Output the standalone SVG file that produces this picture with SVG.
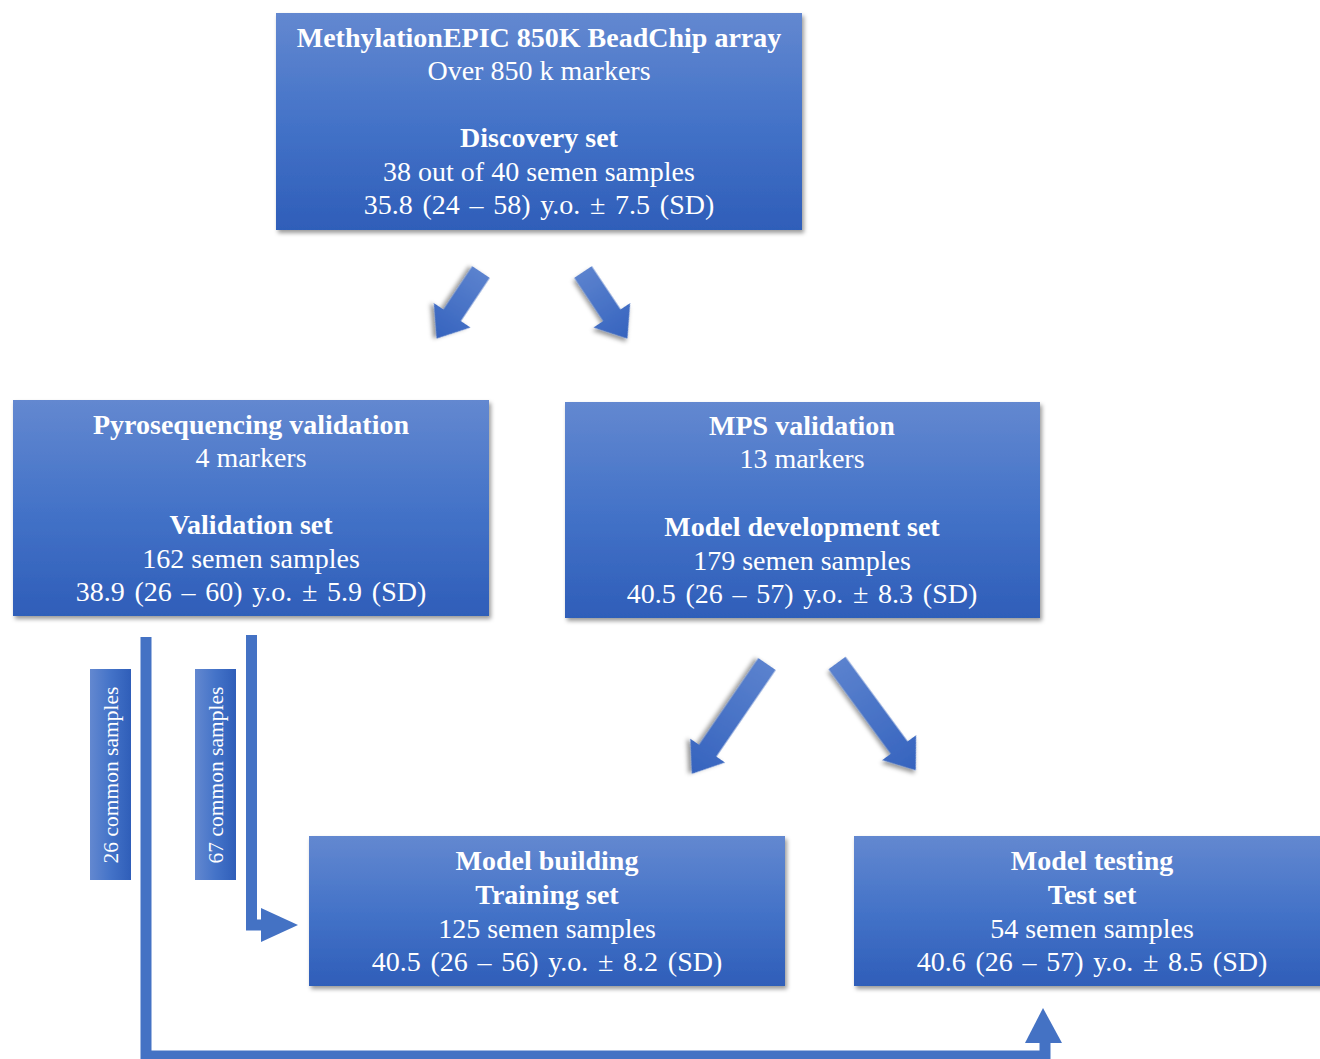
<svg xmlns="http://www.w3.org/2000/svg" width="1320" height="1059" viewBox="0 0 1320 1059">
<defs>
<linearGradient id="gv" x1="0" y1="0" x2="0" y2="1">
<stop offset="0" stop-color="#6388D0"/>
<stop offset="0.5" stop-color="#4473C8"/>
<stop offset="1" stop-color="#2F5EB9"/>
</linearGradient>
<linearGradient id="gh" x1="0" y1="0" x2="1" y2="0">
<stop offset="0" stop-color="#6388D0"/>
<stop offset="0.5" stop-color="#4473C8"/>
<stop offset="1" stop-color="#2F5EB9"/>
</linearGradient>
<linearGradient id="ga" x1="0" y1="0" x2="1" y2="0">
<stop offset="0" stop-color="#5B82CE"/>
<stop offset="1" stop-color="#3563BE"/>
</linearGradient>
<filter id="sh" x="-10%" y="-10%" width="125%" height="130%">
<feDropShadow dx="2" dy="3" stdDeviation="2" flood-color="#000" flood-opacity="0.4"/>
</filter>
<path id="arS" d="M0,-10.5 H52 V-22 L80,0 L52,22 V10.5 H0 Z"/>
<path id="arL" d="M0,-10.5 H105 V-21 L133,0 L105,21 V10.5 H0 Z"/>
</defs>
<style>
.box{fill:url(#gv);filter:url(#sh)}
.lbl{fill:url(#gh)}
text{font-family:"Liberation Serif","Times New Roman",serif;fill:#fff;text-anchor:middle;font-size:28px}
.b{font-weight:bold}
.s{font-size:21.5px}
.age{word-spacing:2.7px}
.arrow{fill:url(#ga);filter:url(#sh)}
.conn{fill:none;stroke:#4472C4;stroke-width:11;stroke-linejoin:miter}
.head{fill:#4472C4}
</style>

<g id="connectors">
<use href="#arS" class="arrow" transform="translate(481,272) rotate(123.7)"/>
<use href="#arS" class="arrow" transform="translate(583,272) rotate(56.3)"/>
<use href="#arL" class="arrow" transform="translate(767,664) rotate(124.4)"/>
<use href="#arL" class="arrow" transform="translate(837,663) rotate(53.7)"/>
<path class="conn" d="M146,637 V1056 H1045 V1040"/>
<polygon class="head" points="1025,1043 1043,1008 1062,1043"/>
<path class="conn" d="M251.5,635 V925 H264"/>
<polygon class="head" points="261,908 298,925 261,942"/>
</g>

<g id="label26">
<rect class="lbl" x="90" y="669" width="41" height="211"/>
<text class="s" transform="translate(118,775) rotate(-90)">26 common samples</text>
</g>
<g id="label67">
<rect class="lbl" x="195" y="669" width="41" height="211"/>
<text class="s" transform="translate(223,775) rotate(-90)">67 common samples</text>
</g>

<g id="discovery">
<rect class="box" x="276" y="13" width="526" height="217"/>
<text class="b" x="539" y="47">MethylationEPIC 850K BeadChip array</text>
<text x="539" y="80">Over 850 k markers</text>
<text class="b" x="539" y="147">Discovery set</text>
<text x="539" y="181">38 out of 40 semen samples</text>
<text class="age" x="539" y="214">35.8 (24 – 58) y.o. ± 7.5 (SD)</text>
</g>

<g id="pyro">
<rect class="box" x="13" y="400" width="476" height="216"/>
<text class="b" x="251" y="434">Pyrosequencing validation</text>
<text x="251" y="467">4 markers</text>
<text class="b" x="251" y="534">Validation set</text>
<text x="251" y="568">162 semen samples</text>
<text class="age" x="251" y="601">38.9 (26 – 60) y.o. ± 5.9 (SD)</text>
</g>

<g id="mps">
<rect class="box" x="565" y="402" width="475" height="216"/>
<text class="b" x="802" y="435">MPS validation</text>
<text x="802" y="468">13 markers</text>
<text class="b" x="802" y="536">Model development set</text>
<text x="802" y="570">179 semen samples</text>
<text class="age" x="802" y="603">40.5 (26 – 57) y.o. ± 8.3 (SD)</text>
</g>

<g id="building">
<rect class="box" x="309" y="836" width="476" height="150"/>
<text class="b" x="547" y="870">Model building</text>
<text class="b" x="547" y="904">Training set</text>
<text x="547" y="938">125 semen samples</text>
<text class="age" x="547" y="971">40.5 (26 – 56) y.o. ± 8.2 (SD)</text>
</g>

<g id="testing">
<rect class="box" x="854" y="836" width="476" height="150"/>
<text class="b" x="1092" y="870">Model testing</text>
<text class="b" x="1092" y="904">Test set</text>
<text x="1092" y="938">54 semen samples</text>
<text class="age" x="1092" y="971">40.6 (26 – 57) y.o. ± 8.5 (SD)</text>
</g>
</svg>
